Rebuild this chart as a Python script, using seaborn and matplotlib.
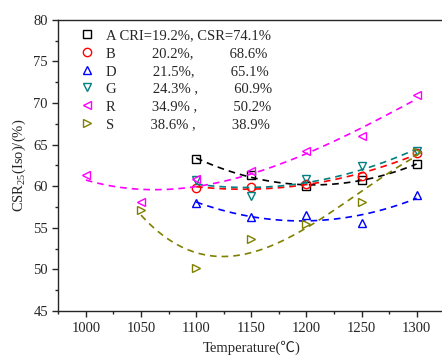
import numpy as np
import matplotlib
matplotlib.use("Agg")
import matplotlib.pyplot as plt
import seaborn as sns
from matplotlib.ticker import MultipleLocator

# temperatures (C)
temp_all = [1000, 1050, 1100, 1150, 1200, 1250, 1300]
temp_hi = [1100, 1150, 1200, 1250, 1300]
temp_s = [1050, 1100, 1150, 1200, 1250, 1300]

# CSR25 (Iso) values
csr_A = [63.3, 61.3, 60.0, 60.7, 62.7]
csr_B = [59.8, 59.9, 60.3, 61.2, 64.0]
csr_D = [58.0, 56.3, 56.6, 55.6, 58.9]
csr_G = [60.7, 58.8, 60.9, 62.4, 64.2]
csr_R = [61.3, 58.1, 60.9, 61.8, 64.2, 66.0, 70.9]
csr_S = [57.1, 50.2, 53.6, 55.5, 58.1, 64.1]

names = ["A", "B", "D", "G", "R", "S"]
cri = [19.2, 20.2, 21.5, 24.3, 34.9, 38.6]
csr_coke = [74.1, 68.6, 65.1, 60.9, 50.2, 38.9]

# polynomial order of each fitted trend line
fit_order = [2, 2, 2, 2, 3, 3]

series = [
    (temp_hi, csr_A, "black", "s"),
    (temp_hi, csr_B, "red", "o"),
    (temp_hi, csr_D, "blue", "^"),
    (temp_hi, csr_G, "#008080", "v"),
    (temp_all, csr_R, "magenta", "<"),
    (temp_s, csr_S, "#808000", ">"),
]

sns.set_style("ticks")
plt.rcParams["font.family"] = ["Liberation Serif", "Noto Sans CJK SC"]
plt.rcParams["mathtext.fontset"] = "custom"
plt.rcParams["mathtext.rm"] = "Liberation Serif"
plt.rcParams["mathtext.it"] = "Liberation Serif:italic"
plt.rcParams["font.size"] = 10.5

fig = plt.figure(figsize=(4.42, 3.58), dpi=100)
ax = fig.add_axes([0.132, 0.131, 0.873, 0.814])

for i, (xs, ys, col, mk) in enumerate(series):
    # polynomial trend, drawn dashed
    xc = np.array(xs) - 1150.0
    coef = np.polyfit(xc, ys, fit_order[i])
    xf = np.linspace(min(xs), max(xs), 120)
    sns.lineplot(x=xf, y=np.polyval(coef, xf - 1150.0), ax=ax, color=col,
                 linestyle=(0, (4, 3)), linewidth=1.2)
    if i == 0:
        lab = f"{names[i]} CRI={cri[i]}%, CSR={csr_coke[i]}%"
    else:
        sep = "," if cri[i] < 24 else " ,"
        lab = f"{names[i]}" + " " * 10 + f"{cri[i]}%{sep}" + " " * 10 + f"{csr_coke[i]}%"
    sns.lineplot(x=xs, y=ys, ax=ax, color=col, marker=mk, linestyle="",
                 markersize=6, markerfacecolor="none", markeredgecolor=col,
                 markeredgewidth=1.0, label=lab)

ax.set_xlim(975, 1325)
ax.set_ylim(45, 80)
ax.xaxis.set_major_locator(MultipleLocator(50))
ax.xaxis.set_minor_locator(MultipleLocator(25))
ax.yaxis.set_major_locator(MultipleLocator(5))
ax.yaxis.set_minor_locator(MultipleLocator(2.5))
ax.tick_params(which="major", direction="out", length=4, width=1, labelsize=10.5)
ax.tick_params(which="minor", direction="out", length=2, width=1)
ax.spines["right"].set_visible(False)
for s in ["left", "bottom", "top"]:
    ax.spines[s].set_linewidth(1.0)

ax.set_xlabel("Temperature(℃)", fontsize=10.5)
ax.set_ylabel("CSR$_{25}$(Iso)/(%)", fontsize=10.5)

ax.legend(loc="upper left", bbox_to_anchor=(0.03, 1.004), frameon=False,
          handlelength=1.0, handletextpad=0.8, labelspacing=0.32,
          borderpad=0.4, borderaxespad=0.3, fontsize=10.5)

plt.savefig("out.png", dpi=100)
